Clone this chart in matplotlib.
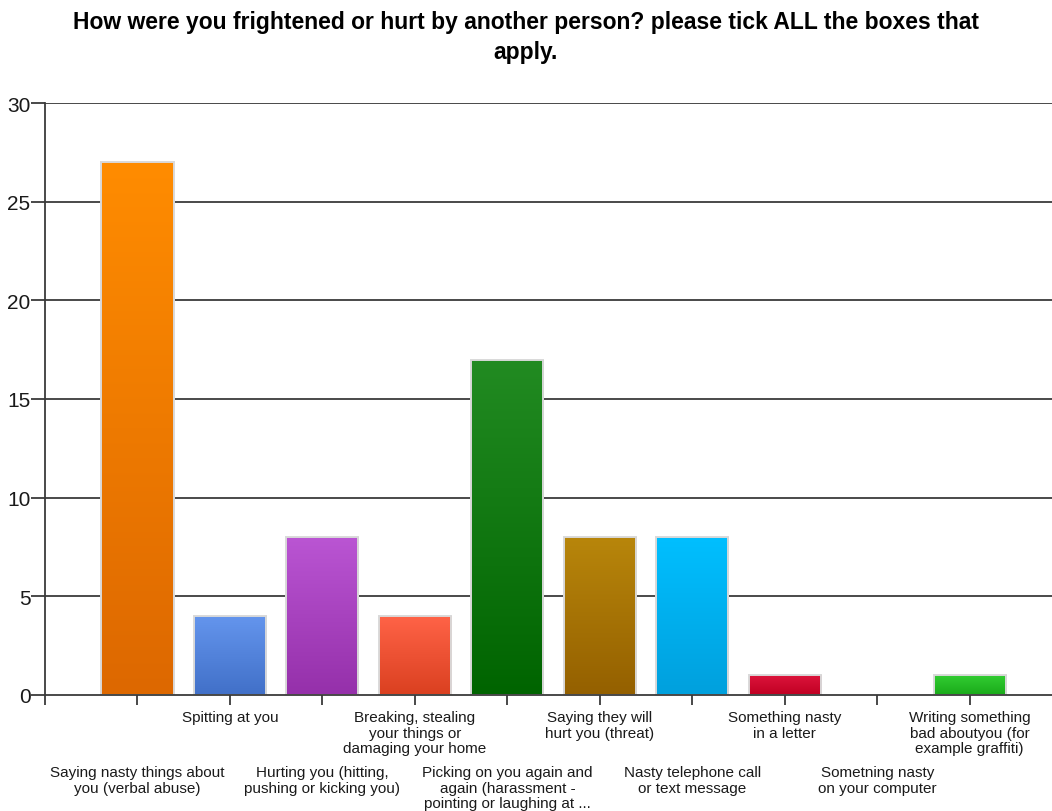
import numpy as np
import matplotlib
matplotlib.use("Agg")
import matplotlib.pyplot as plt
from matplotlib.colors import LinearSegmentedColormap

plt.rcParams['font.family'] = ['Liberation Sans', 'DejaVu Sans']

title = "How were you frightened or hurt by another person? please tick ALL the boxes that\napply."

categories = [
    "Saying nasty things about\nyou (verbal abuse)",
    "Spitting at you",
    "Hurting you (hitting,\npushing or kicking you)",
    "Breaking, stealing\nyour things or\ndamaging your home",
    "Picking on you again and\nagain (harassment -\npointing or laughing at ...",
    "Saying they will\nhurt you (threat)",
    "Nasty telephone call\nor text message",
    "Something nasty\nin a letter",
    "Sometning nasty\non your computer",
    "Writing something\nbad aboutyou (for\nexample graffiti)",
]
counts = [27, 4, 8, 4, 17, 8, 8, 1, 0, 1]

# top / bottom colour of each bar's vertical gradient
top_colors = ["#FF8C00", "#6495ED", "#BA55D3", "#FF6347", "#228B22",
              "#B8860B", "#00BFFF", "#DC143C", "#A0A0A0", "#32CD32"]
bottom_colors = ["#DD6800", "#4170C8", "#9530AA", "#DA4020", "#006400",
                 "#946000", "#00A0DD", "#C00022", "#808080", "#1AAA1A"]

yticks = [0, 5, 10, 15, 20, 25, 30]

fig = plt.figure(figsize=(10.52, 8.12), dpi=100)
ax = fig.add_axes([45 / 1052, 1 - 696 / 812, 1 - 45 / 1052, (696 - 104) / 812])

x = np.arange(len(categories))

# horizontal grid lines
for yv in yticks[1:]:
    ax.axhline(yv, color="#3a3a3a", lw=1.3, zorder=1)

edge_widths = [1.4 if v > 0 else 0 for v in counts]
bars = ax.bar(x, counts, width=0.78, facecolor="none",
              edgecolor="#D9D9D9", linewidth=edge_widths, zorder=3)

grad = np.linspace(0, 1, 256).reshape(-1, 1)
for bar, c_top, c_bot in zip(bars, top_colors, bottom_colors):
    h = bar.get_height()
    if h <= 0:
        continue
    cmap = LinearSegmentedColormap.from_list("g", [c_top, c_bot])
    x0, w = bar.get_x(), bar.get_width()
    im = ax.imshow(grad, cmap=cmap, aspect="auto",
                   extent=(x0, x0 + w, 0, h), origin="upper",
                   zorder=2, interpolation="bilinear")
    im.set_clip_path(bar)
ax.set_xlim(-1, 9.89)
ax.set_ylim(0, 30)

# axes styling
for side in ["top", "right"]:
    ax.spines[side].set_visible(False)
for side in ["left", "bottom"]:
    ax.spines[side].set_color("#3a3a3a")
    ax.spines[side].set_linewidth(1.3)
    ax.spines[side].set_zorder(4)

ax.set_yticks(yticks)
ax.set_yticklabels([str(v) for v in yticks], fontsize=15, color="#1a1a1a")
ax.tick_params(axis="y", length=10, width=1.3, color="#3a3a3a", pad=0.5)

ax.set_xticks(list(np.concatenate([[-1], x])))
ax.set_xticklabels([""] * (len(x) + 1))
ax.tick_params(axis="x", length=7, width=1.3, color="#3a3a3a")

# staggered category labels
for i, lab in enumerate(categories):
    off = -15 if i % 2 == 1 else -70
    ax.annotate(lab, xy=(i, 0), xycoords=("data", "axes fraction"),
                xytext=(0, off * 0.72), textcoords="offset points",
                ha="center", va="top", fontsize=11, linespacing=1.15,
                color="#1a1a1a", annotation_clip=False)

fig.text(0.5, 1 - 11 / 812, title, ha="center", va="top",
         fontsize=16.5, fontweight="bold", linespacing=1.4)

fig.savefig("out.png", dpi=100)
